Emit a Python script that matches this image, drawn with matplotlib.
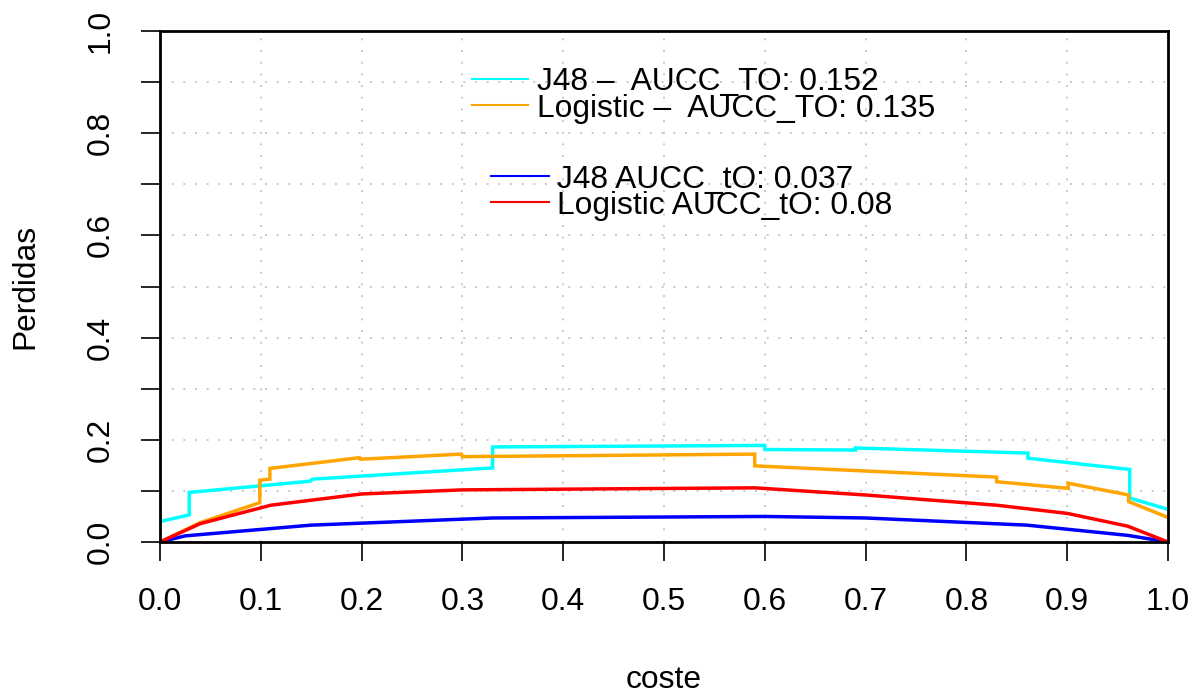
import matplotlib
matplotlib.use("Agg")
import matplotlib.pyplot as plt
import numpy as np

plt.rcParams['font.family'] = ['Liberation Sans', 'DejaVu Sans']

# Cost curves (coste, perdidas)
j48_to_x = [0.0, 0.029, 0.029, 0.149, 0.151, 0.33, 0.33, 0.6, 0.6, 0.69, 0.69, 0.861, 0.861, 0.962, 0.962, 1.0]
j48_to_y = [0.040, 0.053, 0.097, 0.119, 0.123, 0.145, 0.186, 0.189, 0.181, 0.180, 0.184, 0.174, 0.164, 0.142, 0.086, 0.064]

log_to_x = [0.0, 0.04, 0.099, 0.099, 0.109, 0.109, 0.198, 0.199, 0.299, 0.30, 0.59, 0.59, 0.83, 0.83, 0.901, 0.901, 0.961, 0.961, 1.0]
log_to_y = [0.0, 0.038, 0.077, 0.121, 0.123, 0.144, 0.165, 0.162, 0.172, 0.167, 0.172, 0.149, 0.127, 0.118, 0.105, 0.115, 0.092, 0.079, 0.048]

j48_t0_x = [0.0, 0.025, 0.15, 0.33, 0.6, 0.7, 0.86, 0.96, 1.0]
j48_t0_y = [0.0, 0.012, 0.033, 0.047, 0.050, 0.047, 0.033, 0.013, 0.0]

log_t0_x = [0.0, 0.04, 0.11, 0.2, 0.3, 0.59, 0.7, 0.83, 0.9, 0.96, 1.0]
log_t0_y = [0.0, 0.036, 0.072, 0.094, 0.102, 0.106, 0.092, 0.072, 0.056, 0.031, 0.0]

legend_top = ["J48 \u2013  AUCC_TO: 0.152", "Logistic \u2013  AUCC_TO: 0.135"]
legend_bottom = ["J48 AUCC_tO: 0.037", "Logistic AUCC_tO: 0.08"]

x_ticks = [0.0, 0.1, 0.2, 0.3, 0.4, 0.5, 0.6, 0.7, 0.8, 0.9, 1.0]
y_major = [0.0, 0.2, 0.4, 0.6, 0.8, 1.0]
y_minor = [0.1, 0.3, 0.5, 0.7, 0.9]

fig = plt.figure(figsize=(11.99, 6.93), dpi=100)
ax = fig.add_axes([160 / 1199, 1 - 542 / 693, 1008 / 1199, 511 / 693])

# Dotted reference grid
for g in np.arange(0.1, 1.0, 0.1):
    ax.axvline(g, color='#c8c8c8', lw=1.4, ls=(0, (1, 5)), zorder=0)
    ax.axhline(g, color='#c8c8c8', lw=1.4, ls=(0, (1, 5)), zorder=0)

lw = 2.5
ax.plot(j48_to_x, j48_to_y, color='cyan', lw=lw, solid_joinstyle='miter')
ax.plot(log_to_x, log_to_y, color='orange', lw=lw, solid_joinstyle='miter')
ax.plot(j48_t0_x, j48_t0_y, color='blue', lw=lw)
ax.plot(log_t0_x, log_t0_y, color='red', lw=lw)

ax.set_xlim(0, 1)
ax.set_ylim(0, 1)

fs = 22.9
ax.set_xticks(x_ticks)
ax.set_xticklabels([f"{v:.1f}" for v in x_ticks], fontsize=fs)
ax.set_yticks(y_major)
ax.set_yticklabels([f"{v:.1f}" for v in y_major], fontsize=fs, rotation=90, va='center')
ax.set_yticks(y_minor, minor=True)
ax.tick_params(axis='both', which='both', direction='out', length=13.7, width=1.2, color='black')
ax.tick_params(axis='x', pad=19)
ax.tick_params(axis='y', which='major', pad=18.5)

for s in ax.spines.values():
    s.set_linewidth(2.0)

ax.set_xlabel("coste", fontsize=fs)
ax.xaxis.set_label_coords(0.5, -0.270)
ax.xaxis.label.set_va('center')
ax.set_ylabel("Perdidas", fontsize=fs)
ax.yaxis.set_label_coords(-0.134, 0.5)
ax.yaxis.label.set_va('center')

# Legends
tr = ax.transAxes
leg_lw = 1.5
for (x0, x1, tx), ys, bases, labels, cols in [
    ((0.3095, 0.365, 0.374), (0.906, 0.855), (0.8845, 0.831), legend_top, ['cyan', 'orange']),
    ((0.328, 0.386, 0.394), (0.716, 0.665), (0.693, 0.642), legend_bottom, ['blue', 'red']),
]:
    for yl, yb, lab, c in zip(ys, bases, labels, cols):
        ax.plot([x0, x1], [yl, yl], color=c, lw=leg_lw, transform=tr, clip_on=False)
        ax.text(tx, yb, lab, transform=tr, fontsize=fs, va='baseline', ha='left')

fig.savefig("out.png", dpi=100)
